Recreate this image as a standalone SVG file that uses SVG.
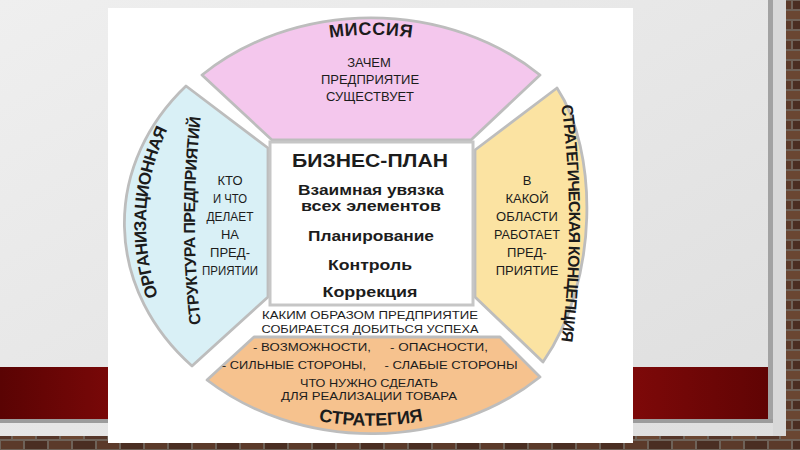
<svg xmlns="http://www.w3.org/2000/svg" width="800" height="450" viewBox="0 0 800 450">
<defs>
<style>
.t{font-family:"Liberation Sans",Arial,sans-serif;fill:#1c1c1c;}
.b{font-weight:bold;}
.side{font-size:13px;text-anchor:middle;}
.box{font-size:14px;font-weight:bold;text-anchor:middle;}
.or{font-size:11.5px;text-anchor:middle;}
.sec{stroke:#bdbdbd;stroke-width:2.8;stroke-linejoin:round;}
</style>
<linearGradient id="slide" x1="0" y1="0" x2="1" y2="1"><stop offset="0" stop-color="#efefef"/><stop offset="1" stop-color="#dedede"/></linearGradient>
<linearGradient id="red" x1="0" y1="0" x2="1" y2="0"><stop offset="0" stop-color="#5a0303"/><stop offset="0.2" stop-color="#850a0a"/><stop offset="0.75" stop-color="#8a0b0b"/><stop offset="1" stop-color="#600404"/></linearGradient>
<pattern id="brick" width="48" height="20" patternUnits="userSpaceOnUse">
<rect width="48" height="20" fill="#6e6258"/>
<rect x="1" y="1" width="22" height="8" fill="#5b3a2a"/>
<rect x="25" y="1" width="22" height="8" fill="#4a2e22"/>
<rect x="-11" y="11" width="22" height="8" fill="#553629"/>
<rect x="13" y="11" width="22" height="8" fill="#6a4632"/>
<rect x="37" y="11" width="22" height="8" fill="#553629"/>
</pattern>
<path id="p-mis" d="M271,54 A228,190 0 0 1 471,54"/>
<path id="p-str" d="M261,403 A238,201 0 0 0 481,403"/>
<path id="p-org" d="M173,330 A225,222 0 0 1 186,98"/>
<path id="p-stp" d="M203,341 A176,400 0 0 1 203,101"/>
<path id="p-kon" d="M561,103 A900,900 0 0 1 561,343"/>
</defs>

<!-- slide background -->
<rect width="800" height="450" fill="url(#brick)"/>
<rect x="0" y="0" width="786" height="436" fill="url(#slide)"/>
<rect x="773" y="0" width="13" height="436" fill="#d8d8d8"/>
<rect x="768" y="0" width="5" height="423" fill="#a2a2a2"/>
<rect x="0" y="367" width="768" height="52" fill="url(#red)"/>
<rect x="0" y="419" width="773" height="4" fill="#9c9c9c"/>

<!-- picture -->
<rect x="108" y="8" width="525" height="435" fill="#ffffff"/>

<g id="mission">
<path class="sec" d="M202,75 A245,207 0 0 1 540,75 L471,140 L272,140 Z" fill="#f4c7ed"/>
<text class="t b" font-size="18" letter-spacing="0.5"><textPath href="#p-mis" startOffset="50%" text-anchor="middle">МИССИЯ</textPath></text>
<text class="t side" x="369" y="67">ЗАЧЕМ</text>
<text class="t side" x="370" y="84">ПРЕДПРИЯТИЕ</text>
<text class="t side" x="370" y="101">СУЩЕСТВУЕТ</text>
</g>

<g id="org-structure">
<path class="sec" d="M186,86 L268,148 L268,297 L192,366 A245,207 0 0 1 186,86 Z" fill="#d9f0f6"/>
<text class="t b" font-size="17" letter-spacing="-0.6"><textPath href="#p-org" startOffset="50%" text-anchor="middle">ОРГАНИЗАЦИОННАЯ</textPath></text>
<text class="t b" font-size="16" letter-spacing="-0.6"><textPath href="#p-stp" startOffset="50%" text-anchor="middle">СТРУКТУРА ПРЕДПРИЯТИЙ</textPath></text>
<text class="t side" x="230" y="185" textLength="25" lengthAdjust="spacingAndGlyphs">КТО</text>
<text class="t side" x="230" y="203" textLength="34" lengthAdjust="spacingAndGlyphs">И ЧТО</text>
<text class="t side" x="230" y="221" textLength="47" lengthAdjust="spacingAndGlyphs">ДЕЛАЕТ</text>
<text class="t side" x="230" y="239" textLength="18" lengthAdjust="spacingAndGlyphs">НА</text>
<text class="t side" x="230" y="257" textLength="40" lengthAdjust="spacingAndGlyphs">ПРЕД-</text>
<text class="t side" x="230" y="275" textLength="56" lengthAdjust="spacingAndGlyphs">ПРИЯТИИ</text>
</g>

<g id="strategic-concept">
<path class="sec" d="M557,88 L475,150 L475,297 L543,362 C600,280 598,150 557,88 Z" fill="#fbe3a2"/>
<text class="t b" font-size="16" letter-spacing="-0.8"><textPath href="#p-kon" startOffset="50%" text-anchor="middle">СТРАТЕГИЧЕСКАЯ КОНЦЕПЦИЯ</textPath></text>
<text class="t side" x="527" y="185">В</text>
<text class="t side" x="527" y="203">КАКОЙ</text>
<text class="t side" x="527" y="221">ОБЛАСТИ</text>
<text class="t side" x="527" y="239" textLength="66" lengthAdjust="spacingAndGlyphs">РАБОТАЕТ</text>
<text class="t side" x="527" y="257">ПРЕД-</text>
<text class="t side" x="527" y="275">ПРИЯТИЕ</text>
</g>

<g id="strategy">
<path class="sec" d="M254,337 L500,337 L540,377 A245,207 0 0 1 207,380 Z" fill="#f6c28e"/>
<text class="t or" x="370" y="319" textLength="216" lengthAdjust="spacingAndGlyphs">КАКИМ ОБРАЗОМ ПРЕДПРИЯТИЕ</text>
<text class="t or" x="370" y="333" textLength="217" lengthAdjust="spacingAndGlyphs">СОБИРАЕТСЯ ДОБИТЬСЯ УСПЕХА</text>
<text class="t or" x="312" y="351" textLength="118" lengthAdjust="spacingAndGlyphs">- ВОЗМОЖНОСТИ,</text>
<text class="t or" x="439" y="351" textLength="98" lengthAdjust="spacingAndGlyphs">- ОПАСНОСТИ,</text>
<text class="t or" x="294" y="369" textLength="144" lengthAdjust="spacingAndGlyphs">- СИЛЬНЫЕ СТОРОНЫ,</text>
<text class="t or" x="451" y="369" textLength="133" lengthAdjust="spacingAndGlyphs">- СЛАБЫЕ СТОРОНЫ</text>
<text class="t or" x="369" y="387" textLength="138" lengthAdjust="spacingAndGlyphs">ЧТО НУЖНО СДЕЛАТЬ</text>
<text class="t or" x="369" y="400" textLength="176" lengthAdjust="spacingAndGlyphs">ДЛЯ РЕАЛИЗАЦИИ ТОВАРА</text>
<text class="t b" font-size="18"><textPath href="#p-str" startOffset="50%" text-anchor="middle">СТРАТЕГИЯ</textPath></text>
</g>

<g id="business-plan">
<rect x="270" y="142" width="203" height="163" fill="#ffffff" stroke="#c6c6c6" stroke-width="3"/>
<text class="t b" x="370" y="167" font-size="19" text-anchor="middle" textLength="156" lengthAdjust="spacingAndGlyphs">БИЗНЕС-ПЛАН</text>
<text class="t box" x="371" y="195" textLength="146" lengthAdjust="spacingAndGlyphs">Взаимная увязка</text>
<text class="t box" x="371" y="211" textLength="140" lengthAdjust="spacingAndGlyphs">всех элементов</text>
<text class="t box" x="371" y="241" textLength="126" lengthAdjust="spacingAndGlyphs">Планирование</text>
<text class="t box" x="370" y="270" textLength="84" lengthAdjust="spacingAndGlyphs">Контроль</text>
<text class="t box" x="370" y="297" textLength="95" lengthAdjust="spacingAndGlyphs">Коррекция</text>
</g>
</svg>
